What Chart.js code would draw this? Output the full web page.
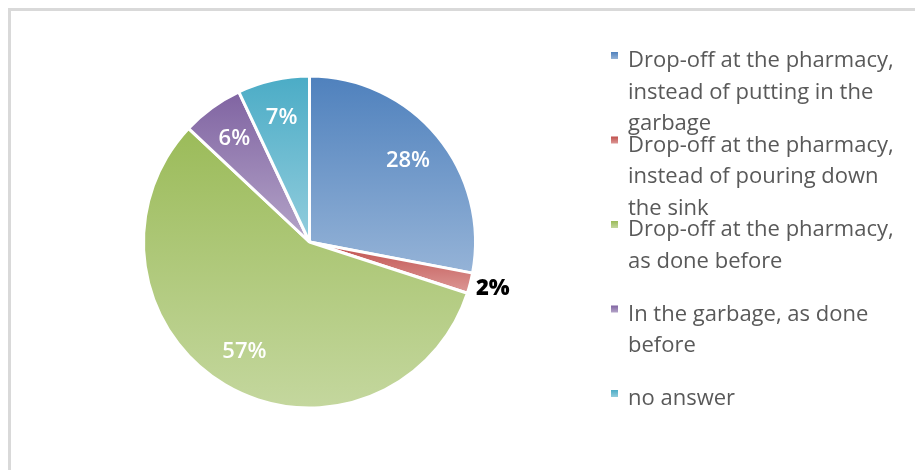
<!DOCTYPE html>
<html>
<head>
<meta charset="utf-8">
<script src="https://cdn.jsdelivr.net/npm/chart.js@4.4.1/dist/chart.umd.min.js"></script>
<style>
  html, body { margin: 0; padding: 0; background: #ffffff; }
  #wrap { position: relative; width: 915px; height: 470px; }
  canvas { display: block; }
</style>
</head>
<body>
<div id="wrap"><canvas id="c" width="915" height="470"></canvas></div>
<script>
// ---- data ----
const categories = [
  ["Drop-off at the pharmacy,", "instead of putting in the", "garbage"],
  ["Drop-off at the pharmacy,", "instead of pouring down", "the sink"],
  ["Drop-off at the pharmacy,", "as done before"],
  ["In the garbage, as done", "before"],
  ["no answer"]
];
const values = [28, 2, 57, 6, 7];
const valueLabels = ["28%", "2%", "57%", "6%", "7%"];

// colour pairs: top (darker) -> bottom (lighter)
const topColors = ["#4f81bd", "#c0504d", "#9bbb59", "#8064a2", "#4bacc6"];
const bottomColors = ["#95b3d7", "#dc9896", "#c4d79e", "#b4a4c8", "#93cddd"];

// ---- plugins ----
const frame = {
  id: 'frame',
  beforeDraw(chart) {
    const ctx = chart.ctx;
    ctx.save();
    ctx.fillStyle = '#d9d9d9';
    ctx.fillRect(8, 8, 915 - 8, 3);
    ctx.fillRect(8, 8, 3, 470 - 8);
    ctx.restore();
  }
};

const sliceGradients = {
  id: 'sliceGradients',
  beforeDatasetsDraw(chart) {
    const ctx = chart.ctx;
    const meta = chart.getDatasetMeta(0);
    meta.data.forEach((arc, i) => {
      const p = arc.getProps(['x', 'y', 'startAngle', 'endAngle', 'outerRadius'], true);
      let ys = [p.y, p.y + p.outerRadius * Math.sin(p.startAngle), p.y + p.outerRadius * Math.sin(p.endAngle)];
      [-Math.PI / 2, Math.PI / 2].forEach(a => {
        let aa = a;
        while (aa < p.startAngle) aa += 2 * Math.PI;
        while (aa > p.startAngle + 2 * Math.PI) aa -= 2 * Math.PI;
        if (aa >= p.startAngle && aa <= p.endAngle) ys.push(p.y + p.outerRadius * Math.sin(aa));
      });
      const y0 = Math.min(...ys), y1 = Math.max(...ys);
      const g = ctx.createLinearGradient(0, y0, 0, y1 + 0.01);
      g.addColorStop(0, topColors[i]);
      g.addColorStop(1, bottomColors[i]);
      arc.options.backgroundColor = g;
    });
  }
};

const valueLabelPlugin = {
  id: 'valueLabelPlugin',
  afterDatasetsDraw(chart) {
    const ctx = chart.ctx;
    const meta = chart.getDatasetMeta(0);
    ctx.save();
    ctx.textAlign = 'center';
    ctx.textBaseline = 'middle';
    meta.data.forEach((arc, i) => {
      const p = arc.getProps(['x', 'y', 'startAngle', 'endAngle', 'outerRadius'], true);
      const mid = (p.startAngle + p.endAngle) / 2;
      const outside = values[i] < 5;
      const f = outside ? 1.14 : 0.77;
      const x = p.x + Math.cos(mid) * p.outerRadius * f;
      const y = p.y + Math.sin(mid) * p.outerRadius * f;
      ctx.font = (outside ? '800 ' : '600 ') + '22px "Open Sans"';
      ctx.fillStyle = outside ? '#000000' : '#ffffff';
      ctx.fillText(valueLabels[i], x, y);
    });
    ctx.restore();
  }
};

const legendPlugin = {
  id: 'customLegend',
  afterDraw(chart) {
    const ctx = chart.ctx;
    ctx.save();
    const markX = 611, textX = 628, firstBase = 67, itemStep = 84.5, lineStep = 31.5;
    ctx.textAlign = 'left';
    ctx.textBaseline = 'alphabetic';
    ctx.font = '22px "Open Sans"';
    categories.forEach((lines, i) => {
      const base = firstBase + i * itemStep;
      const g = ctx.createLinearGradient(0, base - 15, 0, base - 8);
      g.addColorStop(0, topColors[i]);
      g.addColorStop(1, bottomColors[i]);
      ctx.fillStyle = g;
      ctx.fillRect(markX, base - 15, 7, 7);
      ctx.fillStyle = '#595959';
      lines.forEach((t, j) => ctx.fillText(t, textX, base + j * lineStep));
    });
    ctx.restore();
  }
};

new Chart(document.getElementById('c'), {
  type: 'pie',
  data: {
    labels: categories.map(l => l.join(' ')),
    datasets: [{
      data: values,
      backgroundColor: topColors,
      borderColor: '#ffffff',
      borderWidth: 3
    }]
  },
  options: {
    responsive: false,
    animation: false,
    layout: { padding: { left: 142, top: 74, right: 438, bottom: 60 } },
    plugins: {
      legend: { display: false },
      tooltip: { enabled: false }
    }
  },
  plugins: [frame, sliceGradients, valueLabelPlugin, legendPlugin]
});
</script>
</body>
</html>
